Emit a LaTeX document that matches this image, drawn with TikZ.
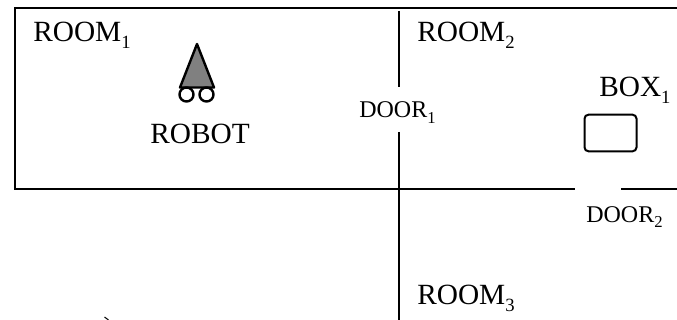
\documentclass[tikz,border=0pt]{standalone}
\usepackage{fontspec}
\setmainfont{Liberation Serif}
\definecolor{RobotClr}{rgb}{0.5,0.5,0.5}
\newcommand{\RoomSub}[1]{\raisebox{-5.5pt}{\fontsize{14}{14}\selectfont #1}}
\newcommand{\DoorSub}[1]{\raisebox{-4.5pt}{\fontsize{12.5}{12.5}\selectfont #1}}
\tikzset{
  wall/.style={line width=1.5pt,color=black},
  roomlabel/.style={inner sep=0pt,anchor=base west,font=\fontsize{22}{22}\selectfont},
  doorlabel/.style={inner sep=0pt,anchor=base west,font=\fontsize{18}{18}\selectfont},
}
\begin{document}
\begin{tikzpicture}[x=.75pt,y=-.75pt]
\useasboundingbox (0,0) rectangle (677,320);

% walls
\coordinate (NW) at (15,8);
\coordinate (NE) at (677,8);
\coordinate (SW) at (15,189.5);
\coordinate (DoorTwoL) at (575,189.5);
\coordinate (DoorTwoR) at (621,189.5);
\coordinate (E) at (677,189.5);
\coordinate (WallTop) at (398.5,11);
\coordinate (DoorOneT) at (398.5,87);
\coordinate (DoorOneB) at (398.5,132);
\coordinate (WallBot) at (398.5,320);
\draw[wall] (NE) -- (NW) -- (SW) -- (DoorTwoL);
\draw[wall] (DoorTwoR) -- (E);
\draw[wall] (WallTop) -- (DoorOneT);
\draw[wall] (DoorOneB) -- (WallBot);

% robot
\coordinate (A) at (197,44);
\coordinate (B) at (180,87.5);
\coordinate (C) at (214,87.5);
\draw[line width=1.8pt,fill=RobotClr,line join=round] (A) -- (B) -- (C) -- cycle;
\draw[line width=1.8pt] (186.5,94.5) circle (7);
\draw[line width=1.8pt] (206.5,94.5) circle (7);

% box
\node[draw,line width=1.5pt,rounded corners=3pt,minimum width=39pt,minimum height=27.5pt,inner sep=0pt] (box) at (610.5,133) {};

% texts
\node[roomlabel] (room1) at (33,41.5) {ROOM\RoomSub{1}};
\node[roomlabel] (room2) at (417,41.5) {ROOM\RoomSub{2}};
\node[roomlabel] (room3) at (417,304) {ROOM\RoomSub{3}};
\node[roomlabel] (robot) at (150,144) {ROBOT};
\node[roomlabel] (box1) at (599,96.5) {BOX\RoomSub{1}};
\node[doorlabel] (door1) at (359,117.5) {DOOR\DoorSub{1}};
\node[doorlabel] (door2) at (586,222) {DOOR\DoorSub{2}};

% stray tick
\draw[line width=.8pt] (104.5,317) -- (108.5,320);
\end{tikzpicture}
\end{document}
